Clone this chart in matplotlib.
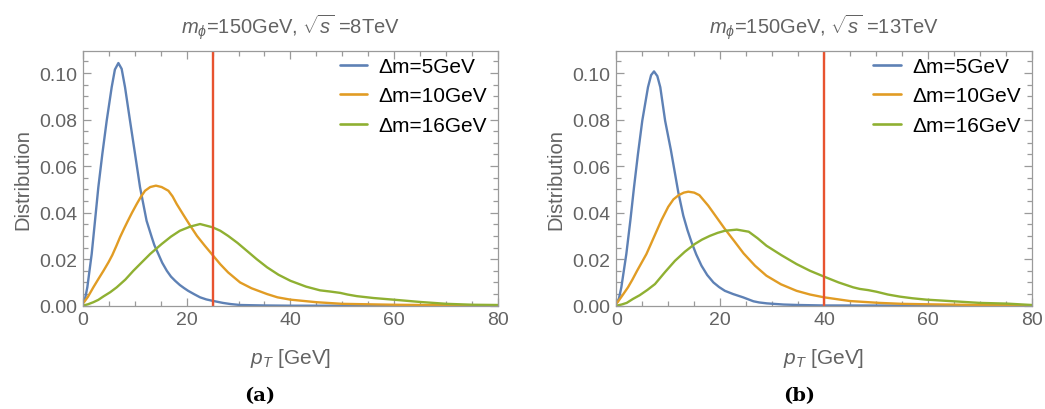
import matplotlib
matplotlib.use("Agg")
import matplotlib.pyplot as plt
from matplotlib.ticker import MultipleLocator, FormatStrFormatter

plt.rcParams['font.family'] = ['Liberation Sans', 'DejaVu Sans']
plt.rcParams['mathtext.fontset'] = 'custom'
plt.rcParams['mathtext.rm'] = 'Liberation Sans'
plt.rcParams['mathtext.it'] = 'Liberation Sans:italic'
plt.rcParams['mathtext.bf'] = 'Liberation Sans:bold'

# ---- data ----
labels = ["\u0394m=5GeV", "\u0394m=10GeV", "\u0394m=16GeV"]
titles = [r"$m_{\phi}$=150GeV, $\sqrt{s}$ =8TeV", r"$m_{\phi}$=150GeV, $\sqrt{s}$ =13TeV"]
panel_tags = ["(a)", "(b)"]
cut_values = [25, 40]
x_label = r"$p_T$ [GeV]"
y_label = "Distribution"

# sqrt(s) = 8 TeV
a_blue_x = [0, 0.15, 0.5, 0.89, 1.73, 2.37, 3.01, 3.78, 4.62, 5.58, 6.2, 6.87, 7.5, 8.15, 9.11, 10.08, 11.04, 12.3, 13.3, 13.8, 14.57, 15.3, 16.2, 17.0, 17.8, 18.7, 19.5, 20.3, 21.5, 22.6, 23.8, 25, 27, 28.5, 30.3, 32.5, 35, 40, 80]
a_blue_y = [0.001, 0.0015, 0.0035, 0.0079, 0.0222, 0.0365, 0.0509, 0.0652, 0.0795, 0.0939, 0.1015, 0.1043, 0.1018, 0.0939, 0.0795, 0.0652, 0.0509, 0.0365, 0.0294, 0.0260, 0.0222, 0.0185, 0.0150, 0.0125, 0.0107, 0.0089, 0.0076, 0.0064, 0.0049, 0.0036, 0.0027, 0.0021, 0.0012, 0.0007, 0.0003, 0.0002, 0.0001, 0.0, 0.0]
a_orange_x = [0, 0.25, 1, 2.05, 3, 4, 5, 5.71, 6.5, 7.2, 8, 8.66, 9.5, 10.4, 11.2, 12, 13, 14.1, 15.2, 16.5, 17.3, 18.1, 19.4, 20.7, 22, 23.5, 25, 26.5, 28, 30.3, 32.5, 35.5, 37.5, 40, 45, 50, 55, 60, 70, 80]
a_orange_y = [0.001, 0.0015, 0.0038, 0.0079, 0.0114, 0.0150, 0.0188, 0.0218, 0.0258, 0.0295, 0.0333, 0.0363, 0.0400, 0.0437, 0.0468, 0.0494, 0.0510, 0.0516, 0.0510, 0.0494, 0.0470, 0.0437, 0.0390, 0.0344, 0.0300, 0.0258, 0.0218, 0.0178, 0.0143, 0.0100, 0.0075, 0.0050, 0.0036, 0.0026, 0.0015, 0.0008, 0.0006, 0.0004, 0.0002, 0.0001]
a_green_x = [0, 1, 2.05, 3, 4, 5.3, 6.55, 8.2, 9.75, 11.4, 12.97, 15.2, 17, 18.7, 20.7, 22.6, 25, 26.5, 28, 29.8, 31.6, 33.5, 35.5, 37.7, 40, 43, 45.7, 47.6, 49.6, 51, 52.8, 56, 59.8, 65, 70.1, 75.2, 80]
a_green_y = [0.0, 0.0006, 0.0015, 0.0025, 0.0040, 0.0058, 0.0079, 0.0112, 0.0150, 0.0187, 0.0222, 0.0265, 0.0297, 0.0322, 0.0340, 0.0351, 0.0337, 0.0322, 0.0300, 0.0270, 0.0236, 0.0200, 0.0165, 0.0133, 0.0107, 0.0082, 0.0066, 0.0061, 0.0055, 0.0048, 0.0041, 0.0033, 0.0026, 0.0016, 0.0008, 0.0004, 0.0003]

# sqrt(s) = 13 TeV
b_blue_x = [0, 0.13, 0.5, 0.97, 1.93, 2.7, 3.41, 4.17, 5.0, 6.1, 6.7, 7.26, 7.9, 8.47, 9.4, 10.5, 11.94, 12.9, 13.7, 14.5, 15.4, 16.4, 17.5, 18.7, 19.8, 20.9, 22.5, 24.4, 26.4, 27.5, 29, 32.2, 35, 40, 80]
b_blue_y = [0.001, 0.0015, 0.0030, 0.0079, 0.0222, 0.0365, 0.0509, 0.0652, 0.0795, 0.0939, 0.0991, 0.1007, 0.0987, 0.0939, 0.0795, 0.0670, 0.0487, 0.0387, 0.0325, 0.0272, 0.0220, 0.0172, 0.0132, 0.0100, 0.0080, 0.0064, 0.0050, 0.0036, 0.0019, 0.0014, 0.0010, 0.0005, 0.0003, 0.0001, 0.0]
b_orange_x = [0, 0.25, 1.2, 2.25, 3.1, 4, 4.9, 5.8, 6.6, 7.45, 8.7, 10, 11, 12, 13, 13.86, 15, 16, 17.7, 19.3, 20.9, 22.7, 24.5, 26.7, 28.9, 31.7, 34.7, 37.3, 40, 45, 50.7, 55, 60, 70, 80]
b_orange_y = [0.001, 0.0015, 0.0045, 0.0079, 0.0112, 0.0150, 0.0186, 0.0222, 0.0262, 0.0305, 0.0368, 0.0425, 0.0457, 0.0475, 0.0486, 0.0490, 0.0486, 0.0475, 0.0430, 0.0380, 0.0330, 0.0278, 0.0225, 0.0172, 0.0129, 0.0092, 0.0064, 0.0048, 0.0036, 0.0020, 0.0012, 0.0008, 0.0006, 0.0003, 0.0002]
b_green_x = [0, 1, 2, 3.2, 4.5, 6, 7.45, 9.4, 11.3, 13.2, 15.1, 16.5, 18, 19.5, 20.9, 23.2, 25.5, 27.2, 28.9, 31.8, 34.7, 37.3, 40, 42.8, 45.6, 46.9, 48.5, 50.1, 52.3, 54.6, 57, 59.7, 64.9, 70, 75.2, 80]
b_green_y = [0.0, 0.0005, 0.0012, 0.0029, 0.0045, 0.0068, 0.0093, 0.0145, 0.0193, 0.0232, 0.0265, 0.0284, 0.0300, 0.0313, 0.0322, 0.0327, 0.0318, 0.0290, 0.0258, 0.0217, 0.0179, 0.0150, 0.0125, 0.0100, 0.0079, 0.0072, 0.0067, 0.0060, 0.0048, 0.0039, 0.0032, 0.0026, 0.0019, 0.0012, 0.0009, 0.0003]

series = [
    [(a_blue_x, a_blue_y), (a_orange_x, a_orange_y), (a_green_x, a_green_y)],
    [(b_blue_x, b_blue_y), (b_orange_x, b_orange_y), (b_green_x, b_green_y)],
]
colors = ["#5E81B5", "#E19C24", "#8FB032"]
cut_color = "#E8532F"
gray = "#636363"
frame_gray = "#9A9A9A"

W, H = 1045, 410
fig = plt.figure(figsize=(W / 100, H / 100), dpi=100)
ax_left_px = [82.7, 616.3]
ax_w_px = 415.5
ax_top_px, ax_bot_px = 51.7, 306.7
tag_x_px = [260, 799]

for i in range(2):
    l = ax_left_px[i] / W
    ax = fig.add_axes([l, 1 - ax_bot_px / H, ax_w_px / W, (ax_bot_px - ax_top_px) / H])
    for (x, y), c, lab in zip(series[i], colors, labels):
        ax.plot(x, y, color=c, lw=1.7, label=lab, solid_joinstyle='round', solid_capstyle='round')
    ax.axvline(cut_values[i], color=cut_color, lw=1.7)
    ax.set_xlim(0, 80)
    ax.set_ylim(0, 0.1096)
    ax.xaxis.set_major_locator(MultipleLocator(20))
    ax.xaxis.set_minor_locator(MultipleLocator(5))
    ax.yaxis.set_major_locator(MultipleLocator(0.02))
    ax.yaxis.set_minor_locator(MultipleLocator(0.005))
    ax.yaxis.set_major_formatter(FormatStrFormatter('%.2f'))
    ax.tick_params(which='both', direction='in', top=True, right=True,
                   colors=frame_gray, labelcolor=gray, labelsize=14, width=0.9)
    ax.tick_params(which='major', length=6, pad=4)
    ax.tick_params(which='minor', length=3.5)
    for s in ax.spines.values():
        s.set_color(frame_gray)
        s.set_linewidth(0.9)
    ax.set_ylabel(y_label, color=gray, fontsize=14.5, labelpad=5)
    leg = ax.legend(loc='upper left', bbox_to_anchor=(0.619, 0.975), frameon=False, fontsize=15,
                    handlelength=1.3, handletextpad=0.55, labelspacing=0.5,
                    borderpad=0.0, borderaxespad=0.0)
    for h in leg.get_lines():
        h.set_linewidth(1.9)
    cx = (ax_left_px[i] + ax_w_px / 2) / W
    fig.text(cx, 1 - 26.7 / H, titles[i], color=gray, fontsize=14.5, ha='center', va='center')
    fig.text(cx, 1 - 359 / H, x_label, color=gray, fontsize=15, ha='center', va='center')
    fig.text(tag_x_px[i] / W, 1 - 396 / H, panel_tags[i], ha='center', va='center',
             fontsize=14, fontweight='bold', family='DejaVu Serif')

fig.savefig("out.png", dpi=100)
